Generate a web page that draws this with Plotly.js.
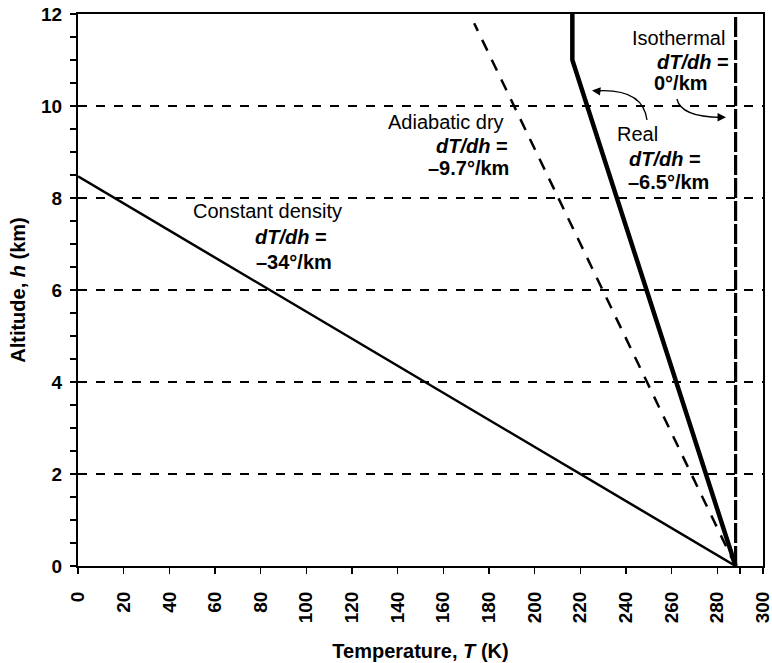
<!DOCTYPE html>
<html>
<head>
<meta charset="utf-8">
<script src="https://cdn.plot.ly/plotly-3.0.1.min.js"></script>
<style>body{margin:0;padding:0;background:#fff}</style>
</head>
<body>
<div id="chart" style="width:772px;height:663px"></div>
<script>
// Data (temperature K, altitude km)
var constDensityT = [288, 0];
var constDensityH = [0, 8.47];
var adiabaticT = [288, 173.5];
var adiabaticH = [0, 11.8];
var realT = [288, 216.5, 216.5];
var realH = [0, 11, 12];
var isothermalT = [288, 288];
var isothermalH = [0, 12];
var xTicks = [0, 20, 40, 60, 80, 100, 120, 140, 160, 180, 200, 220, 240, 260, 280, 300];
var yTicks = [0, 2, 4, 6, 8, 10, 12];

var FONT = 'Liberation Sans, Arial, Helvetica, sans-serif';

var traces = [
  {x: constDensityT, y: constDensityH, mode: 'lines', line: {color: 'black', width: 2.5}, showlegend: false, hoverinfo: 'skip', cliponaxis: false},
  {x: adiabaticT, y: adiabaticH, mode: 'lines', line: {color: 'black', width: 2.5, dash: '12px,10px'}, showlegend: false, hoverinfo: 'skip'},
  {x: realT, y: realH, mode: 'lines', line: {color: 'black', width: 4.5}, showlegend: false, hoverinfo: 'skip'},
  {x: isothermalT, y: isothermalH, mode: 'lines', line: {color: 'black', width: 3.2, dash: '20px,3px'}, showlegend: false, hoverinfo: 'skip'}
];

function txt(text, x, y, xanchor) {
  return {text: text, x: x, y: y, xref: 'x', yref: 'y', xanchor: xanchor, yanchor: 'middle',
          showarrow: false, font: {family: FONT, size: 20, color: 'black'}};
}

var annotations = [
  txt('Isothermal', 284.3, 11.47, 'right'),
  txt('<b><i>dT/dh</i> =</b>', 252.5, 10.96, 'left'),
  txt('<b>0°/km</b>', 251.5, 10.5, 'left'),
  txt('Real', 235.0, 9.39, 'left'),
  txt('<b><i>dT/dh</i> =</b>', 240.5, 8.85, 'left'),
  txt('<b>–6.5°/km</b>', 240.0, 8.35, 'left'),
  txt('Adiabatic dry', 187.5, 9.65, 'right'),
  txt('<b><i>dT/dh</i> =</b>', 189.0, 9.13, 'right'),
  txt('<b>–9.7°/km</b>', 189.5, 8.65, 'right'),
  txt('Constant density', 116.5, 7.72, 'right'),
  txt('<b><i>dT/dh</i> =</b>', 109.8, 7.15, 'right'),
  txt('<b>–34°/km</b>', 112.0, 6.61, 'right'),
  // arrowheads
  {x: 225.1, y: 10.337, xref: 'x', yref: 'y', ax: 10, ay: 1, text: '', showarrow: true,
   arrowhead: 2, arrowsize: 1.3, arrowwidth: 1.3, arrowcolor: 'black'},
  {x: 283.8, y: 9.754, xref: 'x', yref: 'y', ax: -10, ay: 0, text: '', showarrow: true,
   arrowhead: 2, arrowsize: 1.3, arrowwidth: 1.3, arrowcolor: 'black'}
];

var shapes = [
  {type: 'path', xref: 'x', yref: 'y', path: 'M 249.2,9.696 Q 247.4,10.40 226.5,10.33',
   line: {color: 'black', width: 1.3}},
  {type: 'path', xref: 'x', yref: 'y', path: 'M 262.3,10.152 Q 264.1,9.76 281.5,9.754',
   line: {color: 'black', width: 1.3}}
];

var layout = {
  width: 772, height: 663, autosize: false,
  margin: {l: 78, r: 9, t: 14, b: 97, pad: 0},
  paper_bgcolor: 'white', plot_bgcolor: 'white',
  font: {family: FONT, color: 'black'},
  showlegend: false,
  xaxis: {
    range: [-0.001, 300.001], tickmode: 'array', tickvals: xTicks, ticktext: xTicks.map(String),
    tickangle: -90, ticks: 'outside', ticklen: 6, tickwidth: 1.5, tickcolor: 'black',
    ticklabelstandoff: 10, ticklabeloverflow: 'allow',
    showline: true, linecolor: 'black', linewidth: 2, mirror: true,
    showgrid: false, zeroline: false,
    tickfont: {family: FONT, size: 19, color: 'black', weight: 'bold'},
    minor: {tickvals: [290], ticks: 'outside', ticklen: 6, tickwidth: 1.5, tickcolor: 'black', showgrid: false},
    title: {text: '<b>Temperature, <i>T</i> (K)</b>', font: {family: FONT, size: 20, color: 'black'}, standoff: 22},
    automargin: false, fixedrange: true
  },
  yaxis: {
    range: [0, 12], tickmode: 'array', tickvals: yTicks, ticktext: yTicks.map(String),
    ticks: 'outside', ticklen: 6, tickwidth: 1.5, tickcolor: 'black',
    ticklabelstandoff: 4,
    showline: true, linecolor: 'black', linewidth: 2, mirror: true,
    showgrid: true, gridcolor: 'black', gridwidth: 1.2, griddash: '9px,9px',
    zeroline: false,
    tickfont: {family: FONT, size: 19, color: 'black', weight: 'bold'},
    minor: {dtick: 0.5, ticks: 'outside', ticklen: 6, tickwidth: 1.5, tickcolor: 'black', showgrid: false},
    title: {text: '<b>Altitude, <i>h</i> (km)</b>', font: {family: FONT, size: 20, color: 'black'}, standoff: 10},
    automargin: false, fixedrange: true
  },
  shapes: shapes,
  annotations: annotations
};

Plotly.newPlot('chart', traces, layout, {staticPlot: true, displayModeBar: false});
</script>
</body>
</html>
